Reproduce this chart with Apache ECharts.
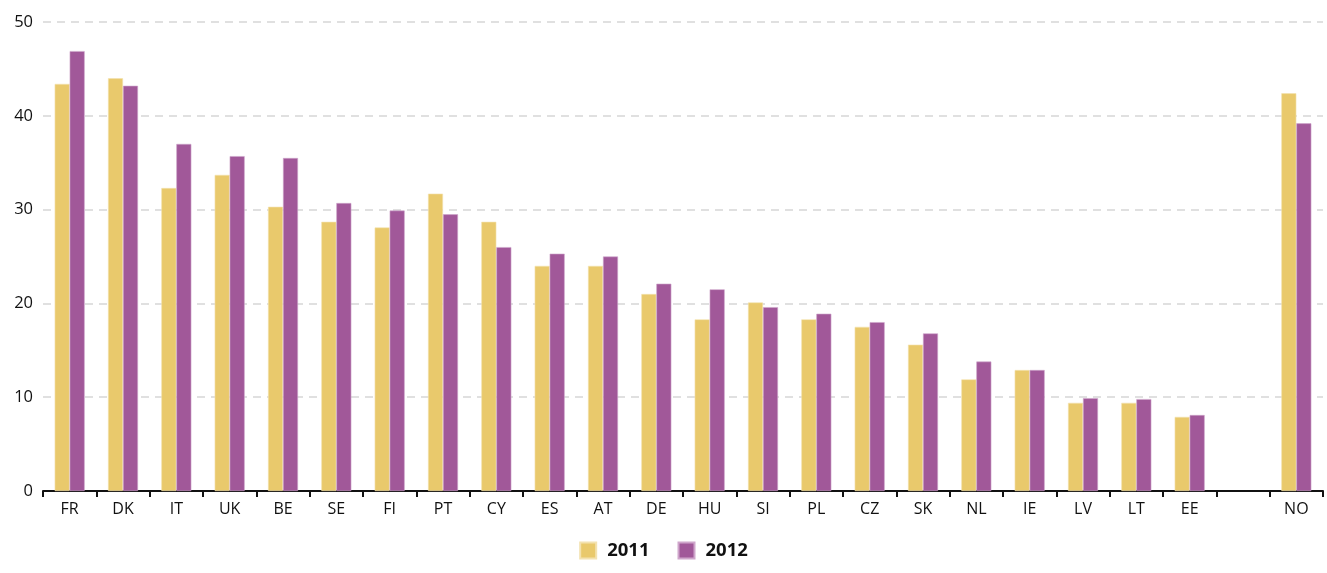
<!DOCTYPE html>
<html>
<head>
<meta charset="utf-8">
<script src="https://cdn.jsdelivr.net/npm/echarts@6/dist/echarts.min.js"></script>
<style>
html,body{margin:0;padding:0;background:#fff;}
#chart{width:1327px;height:573px;}
</style>
</head>
<body>
<div id="chart"></div>
<script>
const categories = ['FR','DK','IT','UK','BE','SE','FI','PT','CY','ES','AT','DE','HU','SI','PL','CZ','SK','NL','IE','LV','LT','EE','','NO'];
const values2011 = [43.4,44.0,32.3,33.7,30.3,28.7,28.1,31.7,28.7,24.0,24.0,21.0,18.3,20.1,18.3,17.5,15.6,11.9,12.9,9.4,9.4,7.9,null,42.4];
const values2012 = [46.9,43.2,37.0,35.7,35.5,30.7,29.9,29.5,26.0,25.3,25.0,22.1,21.5,19.6,18.9,18.0,16.8,13.8,12.9,9.9,9.8,8.1,null,39.2];
const seriesNames = ['2011','2012'];
const yTicks = {min:0, max:50, interval:10};

const chart = echarts.init(document.getElementById('chart'));
const fontFamily = "'Open Sans', 'Noto Sans', sans-serif";
chart.setOption({
  animation:false,
  textStyle:{fontFamily:fontFamily},
  grid:{left:43, right:4, top:22, bottom:82, containLabel:false},
  legend:{
    bottom:8, left:'center',
    itemWidth:16, itemHeight:16, itemGap:28,
    icon:'rect',
    textStyle:{fontFamily:fontFamily, fontSize:18.5, fontWeight:'bold', color:'#111', padding:[0,0,0,6]},
    data:seriesNames
  },
  xAxis:{
    type:'category',
    data:categories,
    boundaryGap:true,
    axisLine:{lineStyle:{color:'#111', width:2}},
    axisTick:{show:true, length:6, lineStyle:{color:'#111', width:2}},
    axisLabel:{color:'#111', fontSize:16, margin:10, interval:0, fontFamily:fontFamily}
  },
  yAxis:{
    type:'value',
    min:yTicks.min, max:yTicks.max, interval:yTicks.interval,
    axisLine:{show:false},
    axisTick:{show:false},
    axisLabel:{color:'#111', fontSize:16.5, margin:10, fontFamily:fontFamily},
    splitLine:{lineStyle:{color:'#d6d6d6', type:[8,6], width:1.5}}
  },
  series:[
    {name:seriesNames[0], type:'bar', data:values2011, barWidth:15, barGap:'0%',
     itemStyle:{color:'#E9C96C', borderColor:'#F3E2B0', borderWidth:0.6}},
    {name:seriesNames[1], type:'bar', data:values2012, barWidth:15, barGap:'0%',
     itemStyle:{color:'#A15899', borderColor:'#CFA6CB', borderWidth:0.6}}
  ]
});
</script>
</body>
</html>
